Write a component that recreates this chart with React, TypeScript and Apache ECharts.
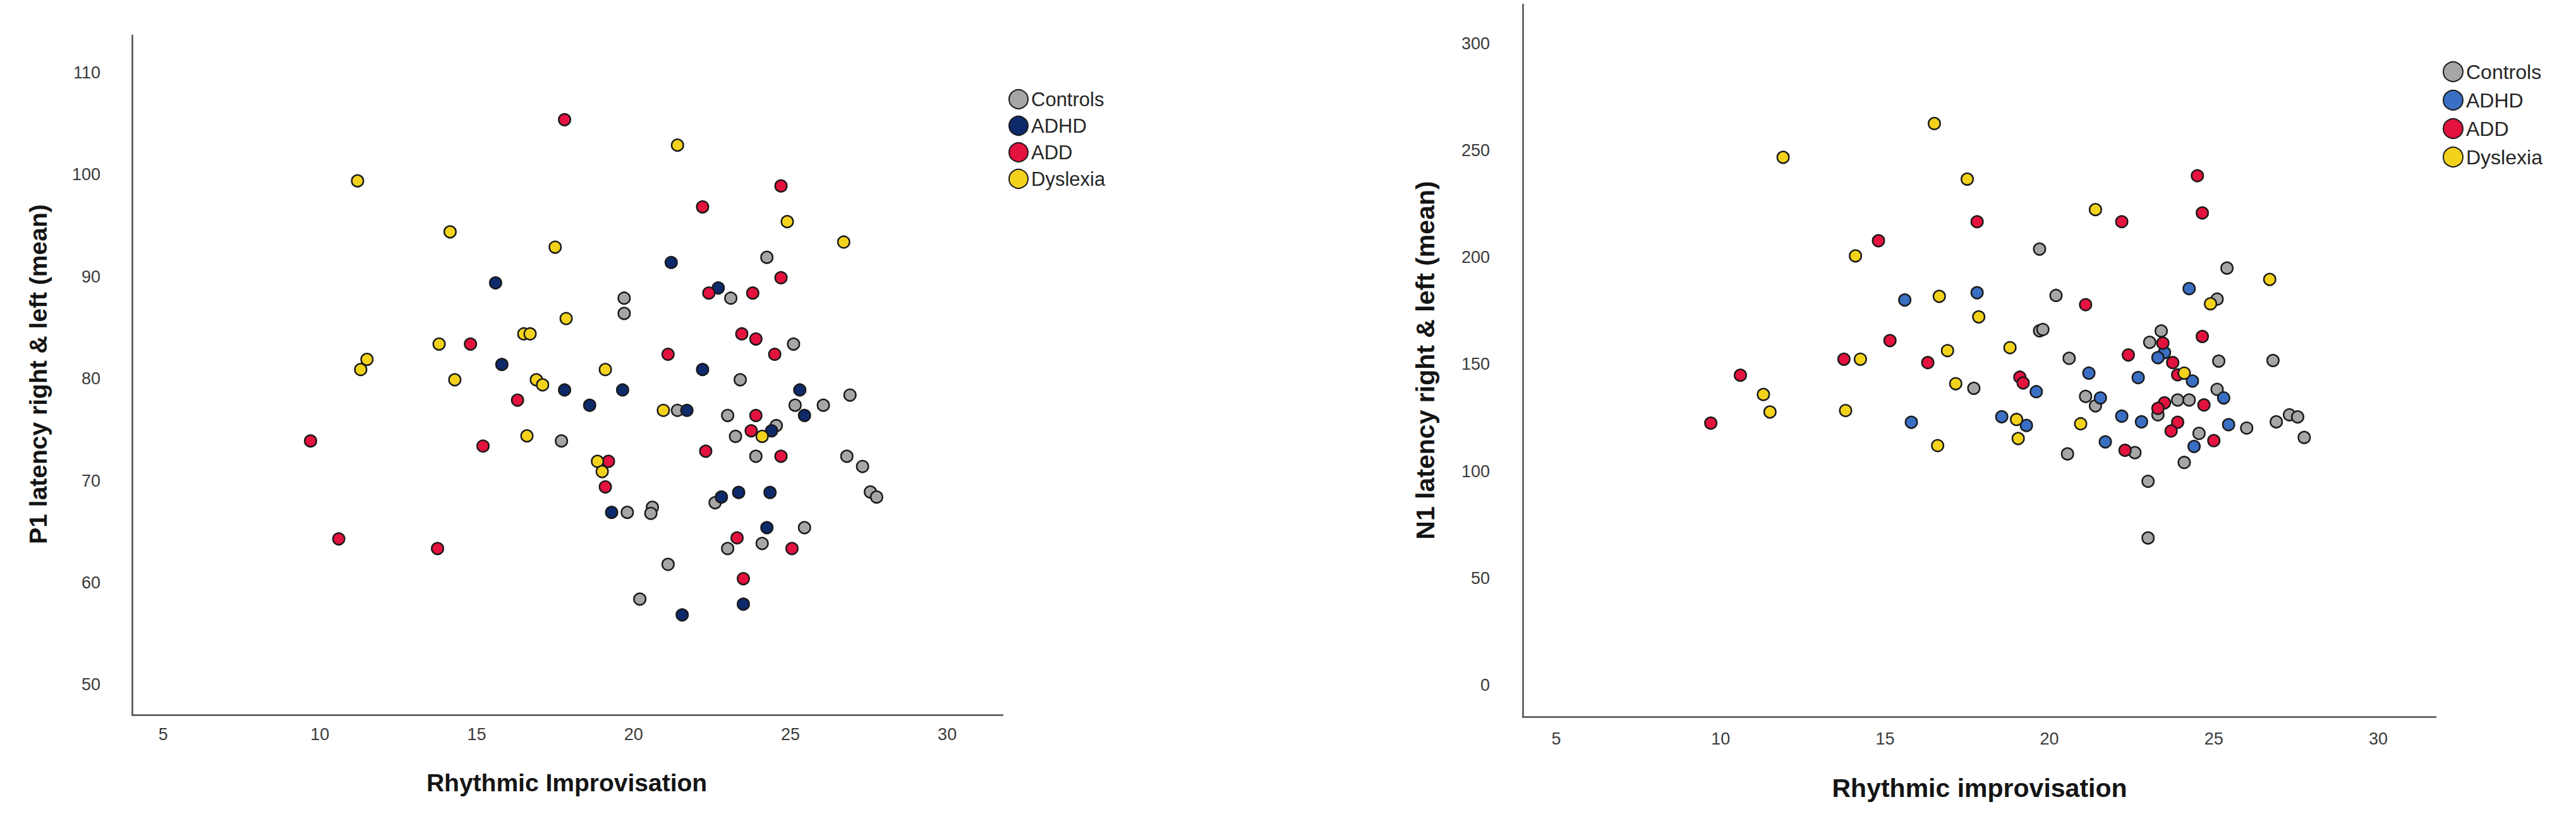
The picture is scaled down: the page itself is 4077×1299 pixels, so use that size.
import React, { useEffect, useRef } from "react";
import * as echarts from "echarts";

// ---------- data ----------
const groupNames = ["Controls", "ADHD", "ADD", "Dyslexia"];
const xTicks = [5, 10, 15, 20, 25, 30];
const p1Ticks = [50, 60, 70, 80, 90, 100, 110];
const n1Ticks = [0, 50, 100, 150, 200, 250, 300];

const p1XTitle = "Rhythmic Improvisation";
const p1YTitle = "P1 latency right & left (mean)";
const n1XTitle = "Rhythmic improvisation";
const n1YTitle = "N1 latency right & left (mean)";

// P1 panel: [rhythmic improvisation, P1 latency]
const p1Controls = [
  [19.7, 87.9], [19.7, 86.4], [17.7, 73.9], [19.8, 66.9], [24.25, 91.9], [23.1, 87.9],
  [25.1, 83.4], [23.4, 79.9], [26.9, 78.4], [25.15, 77.4], [26.05, 77.4], [21.4, 76.9],
  [23.0, 76.4], [24.55, 75.4], [23.25, 74.35], [23.9, 72.4], [26.8, 72.4], [27.3, 71.4],
  [22.6, 67.85], [27.55, 68.9], [27.75, 68.4], [20.6, 67.4], [20.55, 66.8], [25.45, 65.4],
  [24.1, 63.85], [23.0, 63.35], [21.1, 61.8], [20.2, 58.4],
];
const p1Adhd = [
  [15.6, 89.4], [15.8, 81.4], [17.8, 78.9], [19.65, 78.9], [18.6, 77.4], [19.3, 66.9],
  [21.2, 91.4], [22.7, 88.9], [22.2, 80.9], [25.3, 78.9], [21.7, 76.9], [25.45, 76.4],
  [24.4, 74.9], [23.35, 68.85], [24.35, 68.85], [22.8, 68.4], [24.25, 65.4], [23.5, 57.9],
  [21.55, 56.85],
];
const p1Add = [
  [17.8, 105.4], [14.8, 83.4], [16.3, 77.9], [9.7, 73.9], [15.2, 73.4], [19.2, 71.9],
  [19.1, 69.4], [10.6, 64.3], [13.75, 63.35], [24.7, 98.9], [22.2, 96.85], [24.7, 89.9],
  [22.4, 88.4], [23.8, 88.4], [23.45, 84.4], [23.9, 83.9], [21.1, 82.4], [24.5, 82.4],
  [23.9, 76.4], [23.75, 74.9], [22.3, 72.9], [24.7, 72.4], [23.3, 64.4], [25.05, 63.35],
  [23.5, 60.4],
];
const p1Dyslexia = [
  [11.2, 99.4], [14.15, 94.4], [17.5, 92.9], [17.85, 85.9], [16.5, 84.4], [16.7, 84.4],
  [13.8, 83.4], [11.5, 81.9], [11.3, 80.9], [19.1, 80.9], [14.3, 79.9], [16.9, 79.9],
  [17.1, 79.4], [16.6, 74.4], [18.85, 71.9], [19.0, 70.9], [21.4, 102.9], [24.9, 95.4],
  [26.7, 93.4], [20.95, 76.9], [24.1, 74.35],
];

// N1 panel: [rhythmic improvisation, N1 latency]
const n1Controls = [
  [17.7, 138.8], [19.7, 203.9], [25.4, 195.0], [20.2, 182.2], [25.1, 180.5], [19.7, 165.7],
  [19.8, 166.3], [23.4, 165.6], [23.05, 160.3], [20.6, 152.8], [25.15, 151.5], [26.8, 151.8],
  [25.1, 138.3], [21.1, 135.0], [21.4, 130.6], [23.9, 133.3], [24.25, 133.3], [23.3, 126.4],
  [26.0, 120.2], [26.9, 123.1], [27.3, 126.4], [27.55, 125.4], [27.75, 115.8], [24.55, 117.7],
  [22.6, 108.7], [20.55, 108.1], [24.1, 104.1], [23.0, 95.3], [23.0, 68.8],
];
const n1Adhd = [
  [17.8, 183.5], [15.6, 180.1], [18.55, 125.5], [15.8, 122.9], [24.25, 185.4], [23.5, 155.5],
  [23.3, 153.1], [21.2, 145.9], [22.7, 143.8], [24.35, 142.2], [19.6, 137.2], [25.3, 134.3],
  [21.55, 134.3], [19.3, 121.4], [22.2, 125.75], [22.8, 123.1], [25.45, 121.8], [21.7, 113.75],
  [24.4, 111.6],
];
const n1Add = [
  [17.8, 216.7], [14.8, 207.8], [15.15, 161.1], [13.75, 152.4], [16.3, 150.8], [10.6, 144.9],
  [9.7, 122.5], [24.5, 238.2], [22.2, 216.7], [24.65, 220.8], [21.1, 177.9], [24.65, 163.0],
  [23.45, 159.9], [22.4, 154.4], [23.75, 150.8], [23.9, 145.1], [19.1, 144.0], [19.2, 141.3],
  [24.7, 131.0], [23.5, 132.0], [23.3, 129.4], [23.9, 122.9], [23.7, 118.8], [22.3, 109.8],
  [25.0, 114.3],
];
const n1Dyslexia = [
  [16.5, 262.6], [11.9, 246.8], [17.5, 236.6], [14.1, 200.7], [16.65, 181.8], [17.85, 172.2],
  [18.8, 157.8], [16.9, 156.4], [14.25, 152.4], [17.15, 140.95], [11.3, 135.9], [11.5, 127.7],
  [13.8, 128.4], [19.0, 124.2], [16.6, 112.0], [19.05, 115.3], [21.4, 222.35], [26.7, 189.7],
  [24.9, 178.3], [24.1, 145.9], [20.95, 122.2],
];

const p1Colors = ["#a6a6a6", "#0d2a6b", "#e3123e", "#f3d21c"];
const n1Colors = ["#a6a6a6", "#3a6fc3", "#e3123e", "#f3d21c"];

const FONT = '"Liberation Sans", Arial, Helvetica, sans-serif';

type Panel = {
  series: number[][][];
  colors: string[];
  grid: { left: number; top: number; width: number; height: number };
  xRange: [number, number];
  yRange: [number, number];
  yTicks: number[];
  legend: { left: number; top: number; gap: number; size: number; font: number };
  xTitle: { text: string; x: number; y: number; size: number };
  yTitle: { text: string; x: number; y: number; size: number };
  xLabelMargin: number;
  yLabelMargin: number;
};

function buildOption(p: Panel) {
  return {
    animation: false,
    backgroundColor: "#ffffff",
    textStyle: { fontFamily: FONT },
    grid: { ...p.grid, containLabel: false },
    legend: {
      orient: "vertical",
      left: p.legend.left,
      top: p.legend.top,
      itemWidth: p.legend.size,
      itemHeight: p.legend.size,
      itemGap: p.legend.gap,
      icon: "circle",
      data: groupNames,
      textStyle: { fontSize: p.legend.font, color: "#262626", fontFamily: FONT },
    },
    xAxis: {
      type: "value",
      min: p.xRange[0],
      max: p.xRange[1],
      splitLine: { show: false },
      axisTick: { show: false },
      axisLine: { show: true, onZero: false, lineStyle: { color: "#4d4d4d", width: 2.5 } },
      axisLabel: {
        customValues: xTicks,
        fontSize: 27,
        color: "#3a3a3a",
        fontFamily: FONT,
        margin: p.xLabelMargin,
      },
    },
    yAxis: {
      type: "value",
      min: p.yRange[0],
      max: p.yRange[1],
      splitLine: { show: false },
      axisTick: { show: false },
      axisLine: { show: true, onZero: false, lineStyle: { color: "#4d4d4d", width: 2.5 } },
      axisLabel: {
        customValues: p.yTicks,
        fontSize: 27,
        color: "#3a3a3a",
        fontFamily: FONT,
        margin: p.yLabelMargin,
      },
    },
    graphic: [
      {
        type: "text",
        x: p.xTitle.x,
        y: p.xTitle.y,
        style: {
          text: p.xTitle.text,
          font: `bold ${p.xTitle.size}px ${FONT}`,
          fill: "#141414",
          align: "center",
          verticalAlign: "middle",
        },
      },
      {
        type: "text",
        x: p.yTitle.x,
        y: p.yTitle.y,
        rotation: Math.PI / 2,
        style: {
          text: p.yTitle.text,
          font: `bold ${p.yTitle.size}px ${FONT}`,
          fill: "#141414",
          align: "center",
          verticalAlign: "middle",
        },
      },
    ],
    series: groupNames.map((name, i) => ({
      name,
      type: "scatter",
      data: p.series[i],
      symbol: "circle",
      symbolSize: 18.5,
      itemStyle: {
        color: p.colors[i],
        borderColor: "#1a1a1a",
        borderWidth: 2.5,
        opacity: 1,
      },
      emphasis: { disabled: true },
    })),
  };
}

const leftPanel: Panel = {
  series: [p1Controls, p1Adhd, p1Add, p1Dyslexia],
  colors: p1Colors,
  grid: { left: 209, top: 56, width: 1378, height: 1075 },
  xRange: [4.01, 31.77],
  yRange: [47.05, 113.66],
  yTicks: p1Ticks,
  legend: { left: 1591, top: 136, gap: 10, size: 30, font: 31 },
  xTitle: { text: p1XTitle, x: 897, y: 1238, size: 39 },
  yTitle: { text: p1YTitle, x: 60, y: 592, size: 39 },
  xLabelMargin: 17,
  yLabelMargin: 50,
};

const rightPanel: Panel = {
  series: [n1Controls, n1Adhd, n1Add, n1Dyslexia],
  colors: n1Colors,
  grid: { left: 370, top: 7, width: 1445, height: 1127 },
  xRange: [3.98, 31.75],
  yRange: [-14.8, 318.3],
  yTicks: n1Ticks,
  legend: { left: 1821, top: 92, gap: 12, size: 31, font: 32 },
  xTitle: { text: n1XTitle, x: 1093, y: 1247, size: 41 },
  yTitle: { text: n1YTitle, x: 216, y: 570, size: 41 },
  xLabelMargin: 21,
  yLabelMargin: 52,
};

function ChartPanel({ panel, left, width }: { panel: Panel; left: number; width: number }) {
  const ref = useRef<HTMLDivElement | null>(null);
  useEffect(() => {
    if (!ref.current) return;
    const chart = echarts.init(ref.current, undefined, { renderer: "svg" });
    chart.setOption(buildOption(panel) as any);
    return () => chart.dispose();
  }, [panel]);
  return (
    <div
      ref={ref}
      style={{ position: "absolute", left, top: 0, width, height: 1299 }}
    />
  );
}

export default function App() {
  return (
    <div
      style={{
        position: "absolute",
        left: 0,
        top: 0,
        width: 4077,
        height: 1299,
        background: "#ffffff",
        overflow: "hidden",
      }}
    >
      <ChartPanel panel={leftPanel} left={0} width={2040} />
      <ChartPanel panel={rightPanel} left={2040} width={2037} />
    </div>
  );
}
